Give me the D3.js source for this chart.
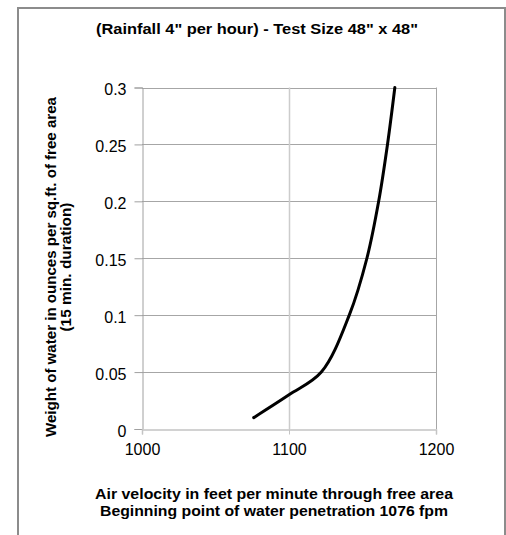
<!DOCTYPE html>
<html>
<head>
<meta charset="utf-8">
<script src="https://cdn.jsdelivr.net/npm/d3@7"></script>
<style>
  html, body { margin: 0; padding: 0; background: #fff; }
  svg { display: block; }
  text { font-family: "Liberation Sans", Arial, sans-serif; }
</style>
</head>
<body>
<svg id="chart" width="506" height="535"></svg>
<script>
const title = "(Rainfall 4\" per hour) - Test Size 48\" x 48\"";
const xLabelLines = ["Air velocity in feet per minute through free area", "Beginning point of water penetration 1076 fpm"];
const yLabelLines = ["Weight of water in ounces per sq.ft. of free area", "(15 min. duration)"];
const xTicks = [1000, 1100, 1200];
const yTicks = [0, 0.05, 0.1, 0.15, 0.2, 0.25, 0.3];
const velocity = [1076, 1100, 1122, 1141, 1153, 1161, 1167, 1172];
const weight = [0.01, 0.03, 0.05, 0.1, 0.15, 0.2, 0.25, 0.3];

const svg = d3.select("#chart");
const plot = { left: 142, right: 436, top: 87.5, bottom: 429 };

const x = d3.scaleLinear().domain([1000, 1200]).range([plot.left, plot.right]);
const y = d3.scaleLinear().domain([0, 0.3]).range([plot.bottom, plot.top]);

// outer frame
svg.append("rect").attr("x", 18).attr("y", 8).attr("width", 487).attr("height", 540)
  .attr("fill", "#fff").attr("stroke", "#8c8c8c").attr("stroke-width", 2);

// title
svg.append("text").attr("x", 257).attr("y", 34).attr("text-anchor", "middle")
  .attr("font-size", 14).attr("font-weight", "bold").attr("fill", "#000")
  .attr("textLength", 322).attr("lengthAdjust", "spacingAndGlyphs").text(title);

// horizontal gridlines
svg.append("g").selectAll("line").data(yTicks.filter(d => d > 0)).join("line")
  .attr("x1", plot.left).attr("x2", plot.right)
  .attr("y1", d => Math.round(y(d)) + 0.5).attr("y2", d => Math.round(y(d)) + 0.5)
  .attr("stroke", "#a6a6a6").attr("stroke-width", 1);

// vertical gridlines
svg.append("g").selectAll("line").data(xTicks.filter(d => d > 1000)).join("line")
  .attr("x1", d => Math.round(x(d)) + 0.5).attr("x2", d => Math.round(x(d)) + 0.5)
  .attr("y1", plot.top).attr("y2", plot.bottom)
  .attr("stroke", d => d === 1200 ? "#a6a6a6" : "#cccccc").attr("stroke-width", d => d === 1200 ? 1 : 1.5);

// y axis
const yAxis = d3.axisLeft(y).tickValues(yTicks).tickSize(8).tickPadding(8)
  .tickFormat(d => d3.format("~g")(d));
const gy = svg.append("g").attr("transform", `translate(${plot.left + 0.5},0)`).call(yAxis);
gy.select(".domain").attr("stroke", "#a0a0a0");
gy.selectAll(".tick line").attr("stroke", "#a0a0a0");
gy.selectAll(".tick text").attr("font-size", 16).attr("fill", "#000").attr("dy", "0.45em")
  .attr("font-family", "Liberation Sans, Arial, sans-serif");

// x axis
const xAxis = d3.axisBottom(x).tickValues(xTicks).tickSize(5).tickPadding(9)
  .tickFormat(d3.format("d"));
const gx = svg.append("g").attr("transform", `translate(0,${plot.bottom + 0.5})`).call(xAxis);
gx.select(".domain").attr("stroke", "#c4c4c4").attr("stroke-width", 1.5);
gx.selectAll(".tick line").attr("stroke", "#c4c4c4");
gx.selectAll(".tick text").attr("font-size", 16).attr("fill", "#000")
  .attr("font-family", "Liberation Sans, Arial, sans-serif");

// curve
const line = d3.line().x((d, i) => x(velocity[i])).y((d, i) => y(weight[i]))
  .curve(d3.curveCatmullRom.alpha(0.5));
svg.append("path").datum(weight).attr("d", line)
  .attr("fill", "none").attr("stroke", "#000").attr("stroke-width", 3)
  .attr("stroke-linecap", "round").attr("stroke-linejoin", "round");

// x label
const xLens = [358, 348];
svg.append("g").selectAll("text").data(xLabelLines).join("text")
  .attr("x", 274).attr("y", (d, i) => 498.5 + i * 17.5).attr("text-anchor", "middle")
  .attr("font-size", 14).attr("font-weight", "bold").attr("fill", "#000")
  .attr("textLength", (d, i) => xLens[i]).attr("lengthAdjust", "spacingAndGlyphs").text(d => d);

// y label
const yLens = [340, 129];
svg.append("g").selectAll("text").data(yLabelLines).join("text")
  .attr("transform", (d, i) => `translate(${55.5 + i * 15},267) rotate(-90)`)
  .attr("text-anchor", "middle")
  .attr("font-size", 14).attr("font-weight", "bold").attr("fill", "#000")
  .attr("textLength", (d, i) => yLens[i]).attr("lengthAdjust", "spacingAndGlyphs").text(d => d);
</script>
</body>
</html>
